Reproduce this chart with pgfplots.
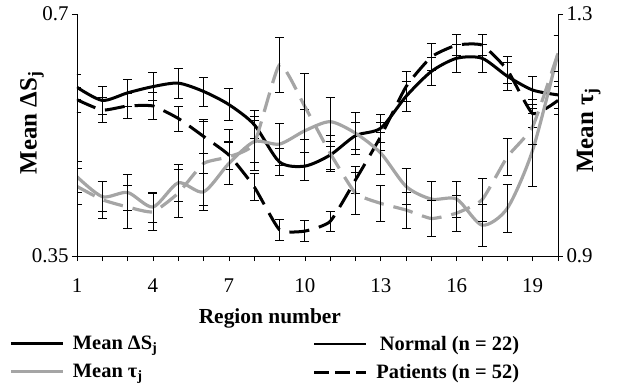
\documentclass[border=0pt]{standalone}
\usepackage{pgfplots}
\pgfplotsset{compat=1.18}
\usepackage{pgfplotstable}
\usepackage{fontspec}
\setmainfont{Liberation Serif}
\definecolor{lgray}{RGB}{165,165,165}

\pgfplotstableread{
x  dsN    edsN   dsP    edsP   tN     etN    tP     etP
1  0.594  0.018  0.576  0.018  1.031  0.025  1.015  0.030
2  0.575  0.020  0.561  0.018  0.998  0.025  0.993  0.030
3  0.586  0.020  0.567  0.018  1.005  0.030  0.981  0.035
4  0.595  0.020  0.567  0.020  0.981  0.025  0.973  0.030
5  0.600  0.022  0.549  0.018  1.021  0.030  1.004  0.040
6  0.588  0.021  0.523  0.025  1.006  0.030  1.053  0.070
7  0.569  0.023  0.496  0.020  1.053  0.035  1.064  0.045
8  0.540  0.020  0.450  0.020  1.089  0.035  1.086  0.045
9  0.486  0.020  0.388  0.015  1.085  0.035  1.216  0.045
10 0.480  0.020  0.386  0.015  1.107  0.035  1.147  0.055
11 0.496  0.020  0.400  0.015  1.122  0.040  1.070  0.030
12 0.524  0.020  0.460  0.020  1.103  0.035  1.004  0.035
13 0.535  0.020  0.523  0.020  1.070  0.035  0.987  0.030
14 0.581  0.022  0.595  0.022  1.015  0.030  0.976  0.030
15 0.617  0.020  0.638  0.020  0.994  0.030  0.962  0.030
16 0.636  0.020  0.655  0.015  0.994  0.030  0.971  0.030
17 0.636  0.020  0.655  0.015  0.951  0.035  0.993  0.035
18 0.610  0.020  0.619  0.020  0.979  0.040  1.064  0.030
19 0.590  0.020  0.556  0.020  1.075  0.060  1.114  0.030
20 0.583  0.020  0.575  0.020  1.235  0.030  1.235  0.030
}\data

\pgfplotsset{
  common/.style={
    scale only axis, width=481bp, height=242bp,
    xmin=1, xmax=20,
    tick align=outside, major tick length=5bp,
    tick style={black, line width=0.6bp},
    axis line style={black, line width=0.8bp},
    tick label style={font=\fontsize{21}{24}\selectfont},
    label style={font=\fontsize{25}{28}\selectfont\bfseries},
    legend style={draw=none, fill=none, font=\fontsize{20.5}{24}\selectfont\bfseries,
      row sep=13bp, nodes={inner ysep=0bp}},
    legend image code/.code={\draw[#1, line width=2.6bp] (0bp,0bp) -- (52bp,0bp); \path (60bp,0bp);},
  },
  eb/.style={error bars/.cd, y dir=both, y explicit,
    error bar style={black, line width=0.7bp, solid},
    error mark options={black, rotate=90, mark size=4.5bp, line width=0.7bp, solid}},
}

\begin{document}
\begin{tikzpicture}
\begin{axis}[common,
  axis y line*=left, axis x line*=bottom,
  ymin=0.35, ymax=0.7,
  ytick={0.35,0.7}, yticklabels={0.35,0.7},
  xtick={1,...,20},
  xticklabels={1,,,4,,,7,,,10,,,13,,,16,,,19,},
  xticklabel style={yshift=-14bp},
  xlabel={Region number},
  ylabel={Mean ΔS\textsubscript{j}},
  xlabel style={at={(axis description cs:0.401,-0.256)}, anchor=center,
    font=\fontsize{21.5}{24}\selectfont\bfseries},
  ylabel style={at={(axis description cs:-0.0936,0.55)}, anchor=center},
  legend cell align=left,
  legend style={at={(-0.147,-0.322)}, anchor=north west},
]
\coordinate (O) at (rel axis cs:0,0);
\addplot[black, line width=3bp, smooth, tension=0.45, forget plot, eb]
  table[x=x, y=dsN, y error=edsN]{\data};
\addplot[black, line width=3bp, dash pattern=on 20bp off 10bp, smooth, tension=0.3, forget plot, eb]
  table[x=x, y=dsP, y error=edsP]{\data};
\addlegendimage{black}
\addlegendentry{Mean ΔS\textsubscript{j}}
\addlegendimage{lgray}
\addlegendentry{Mean τ\textsubscript{j}}
\end{axis}
\begin{axis}[common,
  axis y line*=right, axis x line=none,
  ymin=0.9, ymax=1.3,
  ytick={0.9,1.3}, yticklabels={0.9,1.3},
  ylabel={Mean τ\textsubscript{j}},
  ylabel style={at={(axis description cs:1.064,0.52)}, anchor=center},
  legend cell align=right,
  legend style={at={(0.93,-0.322)}, anchor=north east},
]
\addplot[lgray, line width=3.2bp, smooth, tension=0.45, forget plot, eb]
  table[x=x, y=tN, y error=etN]{\data};
\addplot[lgray, line width=3.2bp, dash pattern=on 20bp off 10bp, smooth, tension=0.3, forget plot, eb]
  table[x=x, y=tP, y error=etP]{\data};
\addlegendimage{black}
\addlegendentry{Normal (n = 22)}
\addlegendimage{black, dash pattern=on 15bp off 6bp}
\addlegendentry{Patients (n = 52)}
\end{axis}
\path (O) ++(-77bp,-133bp) rectangle ++(621bp,389bp);
\end{tikzpicture}
\end{document}
